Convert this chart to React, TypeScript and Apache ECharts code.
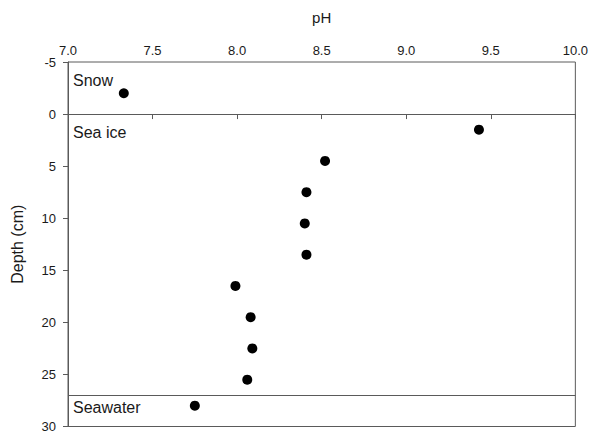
import React, { useEffect, useRef } from "react";
import * as echarts from "echarts";

const phValues = [7.33, 9.43, 8.52, 8.41, 8.4, 8.41, 7.99, 8.08, 8.09, 8.06, 7.75];
const depthValues = [-2, 1.5, 4.5, 7.5, 10.5, 13.5, 16.5, 19.5, 22.5, 25.5, 28];
const layerNames = ["Snow", "Sea ice", "Seawater"];
const layerTops = [-5, 0, 27];

export default function App() {
  const ref = useRef<HTMLDivElement>(null);
  useEffect(() => {
    if (!ref.current) return;
    const chart = echarts.init(ref.current, undefined, { renderer: "svg" });
    const font = "Liberation Sans, Arial, sans-serif";
    const axisColor = "#5a5a5a";
    const textColor = "#1a1a1a";
    const labelGaps = [10, 10, 4];
    chart.setOption({
      animation: false,
      backgroundColor: "#fff",
      textStyle: { fontFamily: font },
      grid: {
        left: 68,
        right: 14,
        top: 62,
        bottom: 5,
        show: true,
        borderColor: axisColor,
        borderWidth: 1,
        backgroundColor: "transparent",
      },
      xAxis: {
        type: "value",
        position: "top",
        min: 7,
        max: 10,
        interval: 0.5,
        name: "pH",
        nameLocation: "middle",
        nameGap: 37,
        nameTextStyle: { fontSize: 15, color: textColor, fontFamily: font },
        axisLine: { show: true, lineStyle: { color: axisColor, width: 1 } },
        axisTick: { show: true, inside: true, length: 5, lineStyle: { color: axisColor } },
        axisLabel: {
          fontSize: 13,
          color: textColor,
          margin: 5,
          fontFamily: font,
          formatter: (v: number) => v.toFixed(1),
        },
        splitLine: { show: false },
      },
      yAxis: {
        type: "value",
        inverse: true,
        min: -5,
        max: 30,
        interval: 5,
        name: "Depth (cm)",
        nameLocation: "middle",
        nameGap: 43,
        nameTextStyle: { fontSize: 16, color: textColor, fontFamily: font },
        axisLine: { show: true, lineStyle: { color: axisColor, width: 1 } },
        axisTick: { show: true, inside: false, length: 5, lineStyle: { color: axisColor } },
        axisLabel: { fontSize: 13, color: textColor, margin: 12, fontFamily: font },
        splitLine: { show: false },
      },
      series: [
        {
          type: "scatter",
          data: phValues.map((p, i) => [p, depthValues[i]]),
          symbol: "circle",
          symbolSize: 10,
          itemStyle: { color: "#000", opacity: 1 },
          markLine: {
            silent: true,
            symbol: ["none", "none"],
            lineStyle: { color: axisColor, type: "solid", width: 1 },
            label: {
              position: "insideStartBottom",
              fontSize: 16,
              color: textColor,
              fontFamily: font,
            },
            data: layerTops.map((t, i) => ({
              yAxis: t,
              lineStyle: { color: i === 0 ? "rgba(0,0,0,0)" : axisColor },
              label: { formatter: layerNames[i], distance: [5, labelGaps[i]] },
            })),
          },
        },
      ],
    });
    return () => chart.dispose();
  }, []);
  return (
    <div
      ref={ref}
      style={{ position: "fixed", left: 0, top: 0, width: 591, height: 433 }}
    />
  );
}
